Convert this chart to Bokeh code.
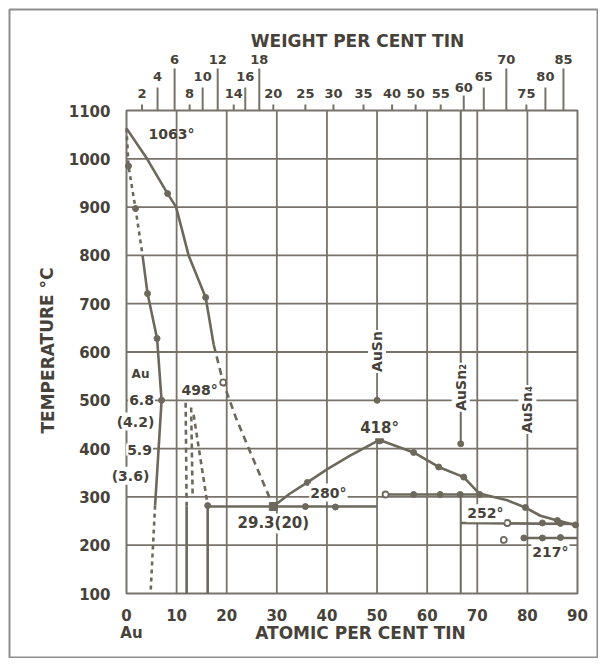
from bokeh.plotting import figure
from bokeh.models import Range1d, Label, FixedTicker
from bokeh.core.properties import value
from bokeh.embed import file_html
from bokeh.resources import INLINE

# ---------------- data (atomic % Sn, temperature degC) ----------------
x_ticks = [0, 10, 20, 30, 40, 50, 60, 70, 80, 90]
temp_ticks = [100, 200, 300, 400, 500, 600, 700, 800, 900, 1000, 1100]
x_grid = [10, 20, 30, 40, 60, 70, 80]
temp_grid = [200, 300, 400, 500, 600, 700, 800, 900, 1000]

# top axis: weight per cent tin, placed at its atomic-per-cent position
wt_labels = ["2", "4", "6", "8", "10", "12", "14", "16", "18", "20", "25", "30",
             "35", "40", "50", "55", "60", "65", "70", "75", "80", "85"]
wt_at = [3.1, 6.2, 9.6, 12.6, 15.2, 18.2, 21.4, 23.7, 26.5, 29.3, 35.7, 41.3,
         47.3, 53.0, 57.7, 62.7, 67.3, 71.3, 75.8, 79.8, 83.6, 87.2]
wt_level = [0, 1, 2, 0, 1, 2, 0, 1, 2, 0, 0, 0, 0, 0, 0, 0, 0.5, 1, 2, 0, 1, 2]

# Au-side liquidus
liq_a_x = [0, 4.1, 8.2, 9.9, 12.4, 15.8, 17.4]
liq_a_t = [1063, 1000, 928, 900, 800, 713, 615]
liq_a_dash_x = [17.4, 19.3, 21.8, 24.4, 29.3]
liq_a_dash_t = [615, 537, 465, 400, 280]
liq_a_pts_x = [8.2, 15.8]
liq_a_pts_t = [928, 713]

# Au solid-solution boundary
sol_dot_x = [0, 0.4, 1.8, 3.2]
sol_dot_t = [1063, 985, 897, 800]
sol_x = [3.2, 4.2, 6.1, 7.0, 6.1, 5.7]
sol_t = [800, 721, 628, 500, 348, 282]
sol_low_x = [5.7, 4.8]
sol_low_t = [282, 100]
sol_pts_x = [0.4, 1.8, 4.2, 6.1, 7.0]
sol_pts_t = [985, 897, 721, 628, 500]

# boundaries below the 498 deg peritectic
pa_x = [11.8, 12.0]
pa_t = [495, 280]
pa_low_x = [12.0, 12.0]
pa_low_t = [280, 100]
pb_x = [12.9, 13.2]
pb_t = [485, 300]
pc_x = [13.4, 16.2]
pc_t = [470, 282]
pd_x = [16.2, 16.2]
pd_t = [282, 100]

# 280 deg eutectic
eut_x = [16.2, 50.0]
eut_t = [280, 280]
eut_pts_x = [16.2, 35.7, 41.7]
eut_pts_t = [282, 280, 279]
eut_point_x = [29.3]
eut_point_t = [280]

# liquidus of AuSn
liq_b_x = [29.3, 32.5, 36.1, 40.0, 44.7, 50.5, 57.3, 62.3, 67.3, 70.4, 76.0, 79.6, 82.6, 86.0, 90.0]
liq_b_t = [280, 306, 330, 357, 386, 418, 392, 362, 341, 307, 293, 278, 261, 251, 241]
liq_b_pts_x = [36.1, 57.3, 62.3, 67.3, 79.6, 86.0, 89.6]
liq_b_pts_t = [330, 392, 362, 341, 278, 251, 242]
peak_x = [50.5]
peak_t = [418]

# 309 deg peritectic (AuSn2)
per_x = [51.7, 70.4]
per_t = [305, 305]
per_pts_x = [57.3, 62.6, 66.6, 70.5]
per_pts_t = [305, 305, 305, 305]
per_open_x = [51.7]
per_open_t = [305]

# 252 deg line and 217 deg eutectic
l252_x = [66.7, 90.0]
l252_t = [246, 244]
l252_pts_x = [83.0, 86.6]
l252_pts_t = [246, 245]
l217_x = [79.3, 90.0]
l217_t = [215, 215]
l217_pts_x = [79.3, 83.0, 86.6]
l217_pts_t = [215, 215, 216]
open_pts_x = [76.0, 75.3, 19.3]
open_pts_t = [246, 211, 537]

# compounds
ausn_x = 50.0
ausn_dot_t = 500
ausn2_x = 66.7
ausn2_dot_t = 410
ausn2_low_t = 305
ausn4_x = 80.0

# ---------------- layout helpers (page pixels -> data) ----------------
PX_X0, PX_PER_AT = 126.0, 5.011     # page x of 0 at.%, px per at.%
PY_TOP, PX_PER_DEG = 110.0, 0.483   # page y of 1100 degC, px per degree
W_PAGE, H_PAGE = 598, 658


def dx(px):
    return (px - PX_X0) / PX_PER_AT


def dy(py):
    return 1100 - (py - PY_TOP) / PX_PER_DEG


LINE = "#6c685b"
GRID = "#77736a"
TEXT = "#46423a"
FONT = "DejaVu Sans"

p = figure(width=W_PAGE, height=H_PAGE,
           x_range=Range1d(dx(0), dx(W_PAGE)), y_range=Range1d(dy(H_PAGE), dy(0)),
           output_backend="svg", toolbar_location=None,
           min_border=0, min_border_left=0, min_border_right=0,
           min_border_top=0, min_border_bottom=0)
p.background_fill_color = "white"
p.border_fill_color = "white"
p.outline_line_color = None
p.grid.visible = False

p.xaxis.fixed_location = 100
p.yaxis.fixed_location = 0
for ax, ticks, stand in ((p.xaxis, x_ticks, 9), (p.yaxis, temp_ticks, 10)):
    ax.ticker = FixedTicker(ticks=ticks)
    ax.axis_line_color = None
    ax.major_tick_line_color = None
    ax.minor_tick_line_color = None
    ax.major_label_text_font = FONT
    ax.major_label_text_font_style = "bold"
    ax.major_label_text_font_size = "15px"
    ax.major_label_text_color = TEXT
    ax.major_label_standoff = stand

# outer border of the picture
p.quad(left=dx(9), right=dx(597), bottom=dy(657), top=dy(9), fill_color=None,
       line_color="#8e8e8e", line_width=2)

# grid
p.segment(x0=x_grid, y0=100, x1=x_grid, y1=1100, line_color=GRID, line_width=1.8)
p.segment(x0=0, y0=temp_grid, x1=90, y1=temp_grid, line_color=GRID, line_width=1.8)
p.segment(x0=[ausn_x, ausn_x], y0=[100, ausn_dot_t], x1=[ausn_x, ausn_x], y1=[peak_t[0], 1100],
          line_color=GRID, line_width=1.8)
p.segment(x0=[ausn2_x, ausn2_x], y0=[100, ausn2_dot_t], x1=[ausn2_x, ausn2_x],
          y1=[ausn2_low_t, 1100], line_color=LINE, line_width=2)
p.quad(left=0, right=90, bottom=100, top=1100, fill_color=None, line_color=GRID, line_width=2)

# top weight-per-cent ticks
top_px = {0: 6, 0.5: 15, 1: 23, 2: 42}
lab_px = {0: 17, 0.5: 23, 1: 34, 2: 51}
tick_top = [1100 + top_px[lv] / PX_PER_DEG for lv in wt_level]
lab_y = [1100 + lab_px[lv] / PX_PER_DEG for lv in wt_level]
p.segment(x0=wt_at, y0=1100, x1=wt_at, y1=tick_top, line_color=GRID, line_width=2)
p.text(x=wt_at, y=lab_y, text=wt_labels, text_font=value(FONT), text_font_style="bold",
       text_font_size="13px", text_color=TEXT, text_align="center", text_baseline="middle")

# phase boundaries
W = 2.6
p.line(liq_a_x, liq_a_t, line_color=LINE, line_width=W)
p.line(liq_a_dash_x, liq_a_dash_t, line_color=LINE, line_width=W, line_dash="7 5")
p.line(sol_dot_x, sol_dot_t, line_color=LINE, line_width=W, line_dash="4 4")
p.line(sol_x, sol_t, line_color=LINE, line_width=W)
p.line(sol_low_x, sol_low_t, line_color=LINE, line_width=W, line_dash="4 4")
p.line(pa_x, pa_t, line_color=LINE, line_width=W, line_dash="5 4")
p.line(pa_low_x, pa_low_t, line_color=LINE, line_width=W)
p.line(pb_x, pb_t, line_color=LINE, line_width=W, line_dash="5 4")
p.line(pc_x, pc_t, line_color=LINE, line_width=W, line_dash="5 4")
p.line(pd_x, pd_t, line_color=LINE, line_width=W)
p.line(eut_x, eut_t, line_color=LINE, line_width=W)
p.line(liq_b_x, liq_b_t, line_color=LINE, line_width=W)
p.line(per_x, per_t, line_color=LINE, line_width=W)
p.line(l252_x, l252_t, line_color=LINE, line_width=W)
p.line(l217_x, l217_t, line_color=LINE, line_width=W)

dots_x = liq_a_pts_x + sol_pts_x + eut_pts_x + liq_b_pts_x + per_pts_x + l252_pts_x + l217_pts_x \
    + [ausn_x, ausn2_x]
dots_t = liq_a_pts_t + sol_pts_t + eut_pts_t + liq_b_pts_t + per_pts_t + l252_pts_t + l217_pts_t \
    + [ausn_dot_t, ausn2_dot_t]
p.scatter(dots_x, dots_t, size=6, color=LINE)
p.scatter(open_pts_x + per_open_x, open_pts_t + per_open_t, size=6,
          fill_color="white", line_color=LINE, line_width=1.8)
p.scatter(eut_point_x, eut_point_t, marker="square", size=8, color=LINE)
p.scatter(peak_x, peak_t, size=8, color=LINE)


def lab(x, y, text, size="15px", angle=0, bg=True, style="bold"):
    kw = dict(background_fill_color="white", padding=1) if bg else {}
    p.add_layout(Label(x=x, y=y, text=text, text_font=FONT, text_font_style=style,
                       text_font_size=size, text_color=TEXT, text_align="center",
                       text_baseline="middle", angle=angle, **kw))


lab(9.0, 1052, "1063°", "14px", bg=False)
lab(14.6, 522, "498°", "14px")
lab(2.8, 555, "Au", "12px")
lab(3.0, 500, "6.8", "14px")
lab(1.8, 456, "(4.2)", "14px")
lab(2.6, 398, "5.9", "14px")
lab(0.8, 344, "(3.6)", "14px")
lab(29.3, 245, "29.3(20)", "15px")
lab(40.3, 309, "280°", "14px")
lab(50.5, 442, "418°", "15px")
lab(71.6, 266, "252°", "14px")
lab(84.6, 185, "217°", "14px")
lab(ausn_x, 601, "AuSn", "14px", angle=1.5708)
lab(ausn2_x, 527, "AuSn₂", "14px", angle=1.5708)
lab(ausn4_x, 481, "AuSn₄", "14px", angle=1.5708)

# axis titles
lab(dx(357), dy(40), "WEIGHT PER CENT TIN", "17px", bg=False)
lab(dx(47), dy(350), "TEMPERATURE °C", "17px", angle=1.5708, bg=False)
lab(dx(360), dy(632), "ATOMIC PER CENT TIN", "17px", bg=False)
lab(dx(131), dy(632), "Au", "15px", bg=False)

open("out.html", "w").write(file_html(p, INLINE))
